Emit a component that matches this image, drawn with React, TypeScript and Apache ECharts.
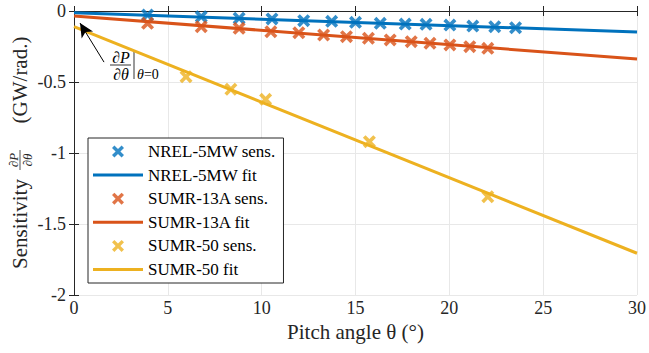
import React, { useEffect, useRef } from "react";
import * as echarts from "echarts";

const nrelX = [3.92, 6.78, 8.8, 10.55, 12.24, 13.73, 15.0, 16.32, 17.65, 18.76, 20.03, 21.25, 22.42, 23.53];
const nrelY = [-0.028, -0.04, -0.051, -0.056, -0.068, -0.073, -0.08, -0.087, -0.092, -0.094, -0.099, -0.106, -0.111, -0.118];
const sumr13X = [3.92, 6.78, 8.8, 10.49, 11.98, 13.3, 14.52, 15.69, 16.85, 17.97, 18.97, 20.03, 21.09, 22.05];
const sumr13Y = [-0.087, -0.111, -0.122, -0.146, -0.153, -0.169, -0.181, -0.192, -0.204, -0.216, -0.227, -0.239, -0.251, -0.263];
const sumr50X = [5.97, 8.36, 10.21, 15.74, 22.05];
const sumr50Y = [-0.463, -0.551, -0.622, -0.92, -1.308];
const fitX = [0, 30];
const nrelFitY = [-0.012, -0.148];
const sumr13FitY = [-0.035, -0.338];
const sumr50FitY = [-0.11, -1.706];
const seriesNames = ["NREL-5MW sens.", "NREL-5MW fit", "SUMR-13A sens.", "SUMR-13A fit", "SUMR-50 sens.", "SUMR-50 fit"];
const arrowFrom = [1.6, -0.36];
const arrowTo = [0.32, -0.085];

const BLUE = "#0072BD";
const ORANGE = "#D95319";
const YELLOW = "#EDB120";
const FONT = "'Liberation Serif', 'Times New Roman', serif";
const X_PATH = "path://M0,2L2,0L5,3L8,0L10,2L7,5L10,8L8,10L5,7L2,10L0,8L3,5Z";
const LINE_ICON = "path://M0,0H50V3H0Z";

const zip = (xs: number[], ys: number[]) => xs.map((x, i) => [x, ys[i]]);

export default function App() {
  const ref = useRef<HTMLDivElement>(null);
  useEffect(() => {
    if (!ref.current) return;
    const chart = echarts.init(ref.current, null, { renderer: "svg" });
    const scatter = (name: string, xs: number[], ys: number[], color: string) => ({
      name,
      type: "scatter",
      data: zip(xs, ys),
      symbol: X_PATH,
      symbolSize: 13,
      itemStyle: { color },
      z: 3,
    });
    const fit = (name: string, ys: number[], color: string, extra: any = {}) => ({
      name,
      type: "line",
      data: zip(fitX, ys),
      symbol: "none",
      lineStyle: { color, width: 3 },
      itemStyle: { color },
      z: 2,
      ...extra,
    });
    const axisCommon = {
      axisLine: { show: true, lineStyle: { color: "#262626", width: 1 } },
      axisTick: { show: true, inside: true, length: 5, lineStyle: { color: "#262626" } },
    };
    chart.setOption({
      animation: false,
      backgroundColor: "#ffffff",
      textStyle: { fontFamily: FONT },
      grid: { left: 74, right: 9, top: 11, bottom: 58, containLabel: false },
      legend: {
        orient: "vertical",
        left: 88,
        top: 138,
        data: seriesNames.map((n, i) => (i % 2 === 1 ? { name: n, icon: LINE_ICON } : { name: n })),
        itemWidth: 50,
        itemHeight: 12,
        itemGap: 6.6,
        padding: [5, 8, 5, 5],
        borderColor: "#262626",
        borderWidth: 1,
        backgroundColor: "#ffffff",
        textStyle: { fontFamily: FONT, fontSize: 17, color: "#000", lineHeight: 17 },
      },
      xAxis: [
        {
          type: "value",
          min: 0,
          max: 30,
          interval: 5,
          ...axisCommon,
          axisLabel: { fontFamily: FONT, fontSize: 18, color: "#262626", margin: 4 },
          splitLine: { show: true, lineStyle: { color: "#e8e8e8", width: 1 } },
          name: "Pitch angle θ (°)",
          nameLocation: "middle",
          nameGap: 26,
          nameTextStyle: { fontFamily: FONT, fontSize: 21, color: "#262626" },
        },
        {
          type: "value",
          position: "top",
          min: 0,
          max: 30,
          interval: 5,
          ...axisCommon,
          axisLabel: { show: false },
          splitLine: { show: false },
        },
      ],
      yAxis: [
        {
          type: "value",
          min: -2,
          max: 0,
          interval: 0.5,
          ...axisCommon,
          axisLabel: { fontFamily: FONT, fontSize: 18, color: "#262626", margin: 8 },
          splitLine: { show: true, lineStyle: { color: "#e8e8e8", width: 1 } },
        },
        {
          type: "value",
          position: "right",
          min: -2,
          max: 0,
          interval: 0.5,
          ...axisCommon,
          axisLabel: { show: false },
          splitLine: { show: false },
        },
      ],
      series: [
        fit(seriesNames[1], nrelFitY, BLUE),
        scatter(seriesNames[0], nrelX, nrelY, BLUE),
        fit(seriesNames[3], sumr13FitY, ORANGE),
        scatter(seriesNames[2], sumr13X, sumr13Y, ORANGE),
        fit(seriesNames[5], sumr50FitY, YELLOW, {
          markLine: {
            silent: true,
            symbol: ["none", "arrow"],
            symbolSize: [10, 14],
            label: { show: false },
            lineStyle: { color: "#000", width: 1, type: "solid" },
            itemStyle: { color: "#000" },
            data: [[{ coord: arrowFrom }, { coord: arrowTo }]],
          },
        }),
        scatter(seriesNames[4], sumr50X, sumr50Y, YELLOW),
      ],
      graphic: [
        { type: "text", x: 20, y: 224, rotation: Math.PI / 2, style: { text: "Sensitivity", fontFamily: FONT, fontSize: 21, fill: "#262626", align: "center", verticalAlign: "middle" } },
        { type: "text", x: 13, y: 160, rotation: Math.PI / 2, style: { text: "∂P", fontFamily: FONT, fontStyle: "italic", fontSize: 13, fill: "#262626", align: "center", verticalAlign: "middle" } },
        { type: "line", shape: { x1: 20, y1: 150, x2: 20, y2: 170 }, style: { stroke: "#262626", lineWidth: 0.8 } },
        { type: "text", x: 27, y: 160, rotation: Math.PI / 2, style: { text: "∂θ", fontFamily: FONT, fontStyle: "italic", fontSize: 13, fill: "#262626", align: "center", verticalAlign: "middle" } },
        { type: "text", x: 20, y: 80, rotation: Math.PI / 2, style: { text: "(GW/rad.)", fontFamily: FONT, fontSize: 21, fill: "#262626", align: "center", verticalAlign: "middle" } },
        { type: "text", x: 121, y: 57, style: { text: "∂P", fontFamily: FONT, fontStyle: "italic", fontSize: 16, fill: "#000", align: "center", verticalAlign: "middle" } },
        { type: "line", shape: { x1: 110, y1: 65, x2: 131, y2: 65 }, style: { stroke: "#000", lineWidth: 0.8 } },
        { type: "text", x: 121, y: 74, style: { text: "∂θ", fontFamily: FONT, fontStyle: "italic", fontSize: 16, fill: "#000", align: "center", verticalAlign: "middle" } },
        { type: "line", shape: { x1: 134, y1: 52, x2: 134, y2: 79 }, style: { stroke: "#000", lineWidth: 0.8 } },
        { type: "text", x: 137, y: 74, style: { text: "{i|θ}=0", fontFamily: FONT, fontSize: 14, fill: "#000", align: "left", verticalAlign: "middle", rich: { i: { fontFamily: FONT, fontStyle: "italic", fontSize: 14, fill: "#000" } } } },
      ],
    });
    return () => chart.dispose();
  }, []);
  return <div ref={ref} style={{ position: "fixed", left: 0, top: 0, width: 649, height: 353 }} />;
}
